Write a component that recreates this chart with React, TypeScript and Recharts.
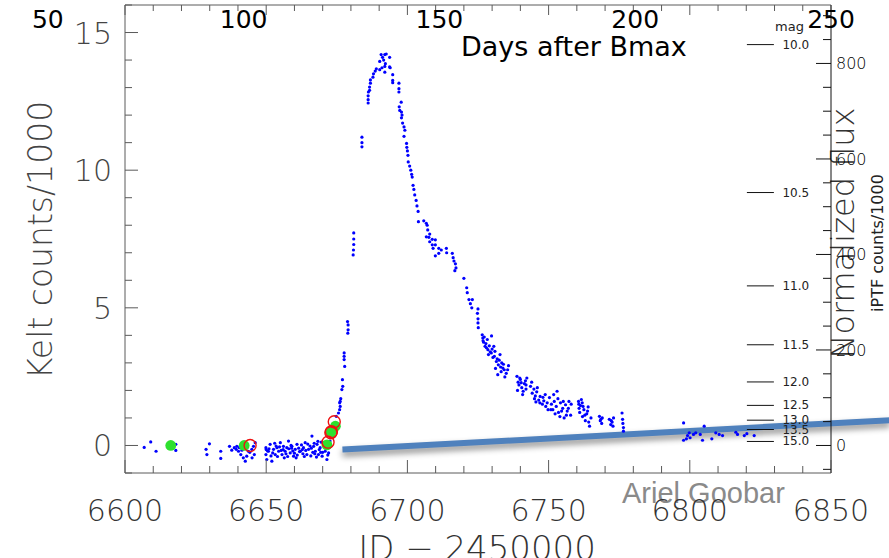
import { ComposedChart, Scatter, XAxis, YAxis, ReferenceLine } from 'recharts';

// Kelt light curve, [JD - 2450000, counts/1000]
const KELT_POINTS: [number, number][] = [
  [6606.8, -0.07], [6609.1, 0.13], [6611.0, -0.21], [6618.0, 0.04], [6618.0, -0.18],
  [6628.7, -0.14], [6629.0, -0.33], [6629.9, 0.06], [6633.9, -0.21], [6633.9, -0.47],
  [6637.0, -0.03], [6637.8, -0.17], [6638.7, -0.08], [6639.4, -0.14], [6639.6, -0.03],
  [6640.2, -0.21], [6640.5, -0.08], [6641.0, -0.33], [6641.4, -0.17], [6641.9, -0.45],
  [6642.6, -0.57], [6643.1, -0.39], [6643.7, -0.21], [6644.9, -0.14], [6645.5, -0.03],
  [6645.8, -0.33], [6646.1, 0.1], [6643.1, -0.08], [6644.2, -0.25], [6640.8, -0.02],
  [6642.0, -0.12], [6645.0, -0.45],
  [6649.9, -0.08], [6649.9, -0.33], [6650.2, -0.51], [6650.8, -0.21], [6651.4, 0.04],
  [6652.0, -0.57], [6652.6, -0.14], [6653.2, -0.33], [6653.8, -0.08], [6654.4, -0.21],
  [6655.0, 0.1], [6655.6, -0.33], [6656.1, -0.03], [6656.7, -0.21], [6657.3, -0.08],
  [6657.9, 0.16], [6658.5, -0.27], [6659.1, -0.03], [6659.7, -0.39], [6660.3, -0.14],
  [6660.9, 0.04], [6662.1, -0.21], [6663.2, -0.08], [6663.8, 0.1], [6664.4, -0.33],
  [6665.0, -0.14], [6666.2, 0.34], [6666.8, -0.03], [6667.4, -0.21], [6668.0, 0.04],
  [6668.5, -0.33], [6669.1, -0.08], [6669.8, -0.39], [6670.3, 0.1], [6670.9, -0.21],
  [6671.5, -0.51], [6672.1, -0.27], [6650.5, -0.2], [6651.0, -0.12], [6652.3, -0.27],
  [6653.5, -0.02], [6654.0, -0.4], [6655.3, -0.18], [6656.4, -0.45], [6657.0, -0.3],
  [6658.0, -0.12], [6658.8, 0.0], [6659.4, -0.2], [6660.0, -0.28], [6661.0, -0.35],
  [6661.5, -0.1], [6662.5, 0.02], [6663.0, -0.3], [6664.0, -0.18], [6665.5, -0.02],
  [6666.5, -0.25], [6667.0, 0.08], [6667.8, -0.42], [6668.8, -0.15], [6669.5, 0.12],
  [6670.0, -0.25], [6670.6, 0.02], [6671.2, -0.12], [6671.8, -0.35], [6672.3, -0.05],
  [6672.6, 0.16], [6650.0, -0.15], [6651.7, -0.38], [6653.0, 0.08], [6654.7, -0.05],
  [6656.0, -0.15], [6657.6, -0.4], [6659.0, -0.1], [6660.6, -0.45], [6662.8, -0.15],
  [6664.7, 0.05], [6665.8, -0.38], [6667.2, -0.3], [6668.3, 0.15], [6669.3, -0.25],
  [6670.8, -0.05], [6671.3, 0.05], [6672.0, 0.1], [6666.0, -0.1], [6663.5, -0.4],
  [6661.8, -0.22],
  [6673.5, 0.3], [6674.0, 0.55], [6674.8, 1.06], [6675.6, 1.18], [6676.0, 1.3],
  [6676.2, 1.42], [6676.0, 1.55], [6676.2, 1.6], [6676.4, 1.7], [6676.8, 2.03],
  [6677.1, 2.15], [6677.0, 2.39], [6677.8, 2.87], [6677.6, 3.12], [6677.6, 3.24],
  [6677.6, 3.36], [6678.9, 4.08], [6679.0, 4.2], [6679.0, 4.38], [6678.8, 4.5],
  [6680.8, 6.92], [6680.9, 7.1], [6681.0, 7.3], [6681.0, 7.5], [6681.0, 7.72],
  [6683.9, 10.85], [6683.9, 11.0], [6683.9, 11.2],
  [6686.1, 12.44], [6686.1, 12.56], [6686.1, 12.7], [6686.2, 12.84], [6686.6, 12.9],
  [6686.6, 13.02], [6686.9, 13.16], [6686.9, 13.28], [6687.8, 13.38], [6688.0, 13.5],
  [6688.6, 13.6], [6689.0, 13.68], [6690.2, 13.65], [6690.2, 13.95], [6690.7, 14.2],
  [6691.0, 13.72], [6691.2, 14.1], [6691.6, 14.0], [6692.0, 14.2], [6692.0, 13.77],
  [6692.0, 13.56], [6692.2, 13.87], [6692.5, 14.22], [6693.7, 14.1], [6693.9, 13.72],
  [6693.7, 13.75],
  [6694.8, 13.47], [6694.8, 13.26], [6694.8, 13.18], [6697.0, 13.16], [6697.0, 12.96],
  [6697.0, 12.84], [6697.8, 12.47], [6697.1, 12.3], [6697.3, 12.17], [6697.9, 12.11],
  [6698.1, 12.0], [6697.9, 11.9], [6698.3, 11.71], [6698.8, 11.57], [6699.1, 11.45],
  [6698.8, 11.23], [6699.7, 10.97], [6699.8, 10.83], [6700.0, 10.7], [6700.2, 10.54],
  [6700.3, 10.3], [6700.8, 10.15], [6701.2, 10.0], [6701.5, 9.85], [6701.7, 9.75],
  [6702.0, 9.45], [6702.3, 9.3], [6702.6, 9.1], [6703.1, 8.9], [6703.4, 8.7],
  [6703.8, 8.5], [6703.9, 8.13], [6705.8, 8.16], [6706.7, 8.07], [6707.0, 8.0],
  [6707.2, 7.83], [6706.7, 7.58], [6707.9, 7.68], [6707.6, 7.56], [6708.8, 7.49],
  [6707.9, 7.4], [6709.9, 7.47], [6709.9, 7.29], [6708.8, 7.29], [6709.1, 7.16],
  [6711.1, 7.16], [6711.1, 6.98], [6709.9, 6.89], [6713.8, 7.16], [6713.9, 7.0],
  [6715.9, 6.98], [6716.2, 6.82], [6716.5, 6.7], [6717.0, 6.6], [6716.8, 6.35],
  [6717.2, 6.45], [6712.0, 7.1],
  [6720.0, 6.07], [6721.0, 5.73], [6721.2, 5.55], [6721.8, 5.3], [6722.3, 5.15],
  [6722.8, 5.0], [6723.0, 5.3], [6725.0, 4.96], [6724.8, 4.8], [6725.0, 4.6],
  [6725.0, 4.45], [6725.1, 4.28],
  [6726.5, 4.02], [6726.7, 3.9], [6727.0, 3.75], [6727.2, 3.94], [6727.5, 3.6],
  [6727.8, 3.7], [6728.0, 3.55], [6728.3, 3.85], [6728.5, 3.48], [6729.0, 3.62],
  [6729.3, 3.4], [6729.7, 3.36], [6729.8, 3.98], [6730.0, 3.5], [6730.3, 3.2],
  [6730.8, 3.24], [6731.0, 3.42], [6731.5, 3.05], [6731.8, 3.15], [6732.2, 2.93],
  [6732.5, 3.1], [6733.0, 2.85], [6733.4, 3.0], [6733.8, 2.81], [6732.0, 2.57],
  [6734.3, 2.75], [6734.5, 2.49], [6735.5, 2.75], [6726.8, 3.8], [6728.7, 3.3],
  [6730.6, 3.6], [6732.8, 3.3], [6734.0, 2.95], [6735.0, 2.62], [6735.8, 2.9],
  [6731.2, 2.8], [6733.2, 2.68],
  [6738.8, 2.51], [6739.2, 2.3], [6739.5, 2.2], [6740.0, 2.4], [6740.5, 2.1],
  [6741.0, 1.97], [6741.4, 2.25], [6742.0, 2.05], [6742.3, 2.45], [6739.0, 2.0],
  [6739.8, 2.45], [6740.3, 2.28], [6741.8, 2.35], [6740.8, 1.85], [6742.0, 2.2],
  [6743.6, 2.15], [6744.2, 1.9], [6744.8, 2.05], [6745.3, 1.8], [6745.8, 1.95],
  [6746.5, 1.65], [6747.0, 1.78], [6747.8, 1.5], [6748.3, 1.62], [6749.0, 1.42],
  [6749.5, 1.55], [6744.0, 2.3], [6745.0, 1.7], [6746.0, 2.1], [6746.9, 1.55],
  [6748.0, 1.75], [6749.8, 1.3], [6745.5, 1.58], [6748.8, 1.85],
  [6750.3, 1.74], [6751.0, 1.5], [6751.5, 1.3], [6752.0, 1.6], [6752.7, 1.42],
  [6753.0, 1.97], [6753.5, 1.2], [6754.2, 1.55], [6755.0, 1.35], [6755.5, 1.0],
  [6756.0, 1.48], [6756.6, 1.25], [6757.2, 1.6], [6757.8, 1.1], [6750.8, 1.3],
  [6752.3, 1.15], [6753.3, 1.7], [6754.6, 1.25], [6755.2, 1.6], [6756.3, 1.1],
  [6757.0, 1.35], [6758.0, 1.5], [6751.8, 1.85], [6754.0, 1.05],
  [6760.6, 1.6], [6760.8, 1.35], [6761.0, 1.2], [6761.3, 1.45], [6761.6, 1.67],
  [6762.0, 1.05], [6762.5, 1.3], [6763.0, 0.9], [6763.5, 1.15], [6764.0, 1.4],
  [6764.5, 0.7], [6765.0, 1.0], [6760.7, 1.5], [6761.9, 1.55], [6762.8, 1.1],
  [6763.8, 1.25], [6764.2, 0.85], [6762.2, 1.42],
  [6768.0, 1.06], [6768.3, 0.9], [6768.8, 0.8], [6769.0, 1.0], [6771.5, 0.95],
  [6772.0, 0.76], [6772.5, 0.85], [6773.0, 1.0], [6768.5, 0.95], [6772.2, 0.9],
  [6772.8, 0.7],
  [6776.0, 1.18], [6776.2, 0.95], [6776.3, 0.8], [6776.5, 0.65], [6776.5, 0.52],
  [6797.8, 0.82], [6797.8, 0.19], [6799.2, 0.36], [6800.1, 0.28], [6801.3, 0.4],
  [6802.1, 0.46], [6803.7, 0.4], [6805.1, 0.7], [6804.5, 0.19], [6807.8, 0.24],
  [6809.2, 0.46], [6810.4, 0.4], [6811.6, 0.36], [6816.3, 0.48], [6816.9, 0.4],
  [6819.3, 0.36], [6820.2, 0.43], [6822.8, 0.36], [6799.8, 0.46], [6798.8, 0.24],
];

// iPTF detections (filled) and fitted points (open rings)
const IPTF_POINTS: [number, number][] = [
  [6616.2, 0.0], [6642.2, 0.0], [6671.5, 0.02], [6673.0, 0.48], [6674.5, 0.7],
];
const IPTF_RINGS: [number, number][] = [
  [6644.3, 0.0], [6671.9, 0.12], [6672.9, 0.46], [6673.1, 0.5], [6674.1, 0.86],
];

// annotation line drawn over the late-time tail
const TREND_LINE: [number, number][] = [[6677.0, -0.15], [6870.9, 0.92]];

// magnitude scale against the iPTF flux axis
const MAG_LEVELS = [10.0, 10.5, 11.0, 11.5, 12.0, 12.5, 13.0, 13.5, 15.0];
const MAG_ZP = 17.31;
const MAG_JD = 6825;

const JD_LABELS = [6600, 6650, 6700, 6750, 6800, 6850];
const DAY_LABELS = [50, 100, 150, 200, 250];
const KELT_LABELS = [0, 5, 10, 15];
const IPTF_LABELS = [0, 200, 400, 600, 800];

const jdTicks: number[] = [];
for (let v = 6600; v <= 6850; v += 10) jdTicks.push(v);
const keltTicks: number[] = [];
for (let v = -1; v <= 16; v += 1) keltTicks.push(v);
const iptfTicks: number[] = [];
for (let v = -50; v <= 900; v += 50) iptfTicks.push(v);

const keltData = KELT_POINTS.map(([jd, kelt]) => ({ jd, kelt }));
const iptfData = IPTF_POINTS.map(([jd, kelt]) => ({ jd, kelt }));
const ringData = IPTF_RINGS.map(([jd, kelt]) => ({ jd, kelt }));
const magData = MAG_LEVELS.map((mag) => ({
  jd: MAG_JD,
  flux: Math.pow(10, -0.4 * (mag - MAG_ZP)),
  mag,
}));
// anchors the days-after-maximum axis so it gets a domain and ticks
const dayData = DAY_LABELS.map((day) => ({ day, kelt: 15 }));

const THIN = "'DejaVu Sans', sans-serif";
const BOX = '#5a5a5a';
const PLOT_TOP = 5;

function BottomTick({ x, y, payload }: any) {
  const major = JD_LABELS.includes(payload.value);
  const len = major ? 13 : 7;
  return (
    <g>
      <line x1={x} x2={x} y1={y} y2={y - len} stroke={BOX} />
      <line x1={x} x2={x} y1={PLOT_TOP} y2={PLOT_TOP + (major ? 10 : 6)} stroke={BOX} />
      {major && (
        <text x={x} y={y + 48} textAnchor="middle" fontFamily={THIN} fontWeight={200} fontSize={30} fill="#333">
          {payload.value}
        </text>
      )}
    </g>
  );
}

function DayTick({ x, payload }: any) {
  return (
    <text x={x} y={28} textAnchor="middle" fontFamily={THIN} fontSize={25} fill="#000">
      {payload.value}
    </text>
  );
}

function KeltTick({ x, y, payload }: any) {
  const major = KELT_LABELS.includes(payload.value);
  return (
    <g>
      <line x1={x} x2={x + (major ? 13 : 7)} y1={y} y2={y} stroke={BOX} />
      {major && (
        <text x={x - 13} y={y} dy={11} textAnchor="end" fontFamily={THIN} fontWeight={200} fontSize={30} fill="#444">
          {payload.value}
        </text>
      )}
    </g>
  );
}

function IptfTick({ x, y, payload }: any) {
  const major = IPTF_LABELS.includes(payload.value);
  return (
    <g>
      <line x1={x} x2={x - (major ? 15 : 8)} y1={y} y2={y} stroke="#111" />
      {major && (
        <text x={x + 5} y={y} dy={6} textAnchor="start" fontFamily={THIN} fontWeight={200} fontSize={16} fill="#000">
          {payload.value}
        </text>
      )}
    </g>
  );
}

function MagTick({ cx, cy, payload }: any) {
  return (
    <g>
      <line x1={cx - 13.5} x2={cx + 13.5} y1={cy} y2={cy} stroke="#111" />
      <text x={cx + 22} y={cy} dy={4} fontFamily={THIN} fontSize={12} fill="#222">
        {payload.mag.toFixed(1)}
      </text>
    </g>
  );
}

const dot = (p: any) => <circle cx={p.cx} cy={p.cy} r={1.6} fill="#0000ff" />;
const greenDot = (p: any) => <circle cx={p.cx} cy={p.cy} r={5.4} fill="#2ee02e" />;
const redRing = (p: any) => (
  <circle cx={p.cx} cy={p.cy} r={6} fill="none" stroke="#ee1111" strokeWidth={1.4} />
);
const noMark = () => <g />;

const trendShape = (p: any) => (
  <line
    x1={p.x1} y1={p.y1} x2={p.x2} y2={p.y2}
    stroke="#4f81bd" strokeWidth={6}
    style={{ filter: 'drop-shadow(0px 4px 3px rgba(0,0,0,0.45))' }}
  />
);

export default function App() {
  return (
    <div style={{ position: 'absolute', left: 0, top: 0, width: 889, height: 558, background: '#fff' }}>
      <ComposedChart width={889} height={558} margin={{ top: 0, right: 0, bottom: 0, left: 0 }}>
        <XAxis
          xAxisId="jd" dataKey="jd" type="number" domain={[6600, 6850]} allowDataOverflow
          ticks={jdTicks} interval={0} height={85} tickSize={0} tickMargin={0}
          tickLine={false} axisLine={{ stroke: BOX }} tick={<BottomTick />}
        />
        <XAxis
          xAxisId="days" dataKey="day" orientation="top" type="number" domain={[69.7, 250]} allowDataOverflow
          ticks={DAY_LABELS} interval={0} height={PLOT_TOP} tickSize={0} tickMargin={0}
          tickLine={false} axisLine={{ stroke: BOX }} tick={<DayTick />}
        />
        <YAxis
          yAxisId="kelt" dataKey="kelt" type="number" domain={[-1, 16]} allowDataOverflow
          ticks={keltTicks} interval={0} width={125} tickSize={0} tickMargin={0}
          tickLine={false} axisLine={{ stroke: BOX }} tick={<KeltTick />}
        />
        <YAxis
          yAxisId="iptf" dataKey="flux" orientation="right" type="number" domain={[-57.65, 922.4]} allowDataOverflow
          ticks={iptfTicks} interval={0} width={58} tickSize={0} tickMargin={0}
          tickLine={false} axisLine={{ stroke: '#111' }} tick={<IptfTick />}
        />

        <Scatter xAxisId="days" yAxisId="kelt" data={dayData} shape={noMark} isAnimationActive={false} />
        <Scatter xAxisId="jd" yAxisId="kelt" data={keltData} shape={dot} isAnimationActive={false} />
        <Scatter xAxisId="jd" yAxisId="kelt" data={iptfData} shape={greenDot} isAnimationActive={false} />
        <Scatter xAxisId="jd" yAxisId="kelt" data={ringData} shape={redRing} isAnimationActive={false} />
        <Scatter xAxisId="jd" yAxisId="iptf" data={magData} shape={<MagTick />} isAnimationActive={false} />

        <ReferenceLine
          xAxisId="jd" yAxisId="kelt" ifOverflow="visible"
          segment={[
            { x: TREND_LINE[0][0], y: TREND_LINE[0][1] },
            { x: TREND_LINE[1][0], y: TREND_LINE[1][1] },
          ]}
          shape={trendShape}
        />

        <text x={775} y={31} fontFamily={THIN} fontSize={13} fill="#222">mag</text>
        <text x={461} y={56} fontFamily={THIN} fontSize={27} fill="#000">Days after Bmax</text>
        <text
          x={40} y={240} transform="rotate(-90 40 240)" textAnchor="middle" dominantBaseline="central"
          fontFamily={THIN} fontWeight={200} fontSize={33} fill="#444"
        >
          Kelt counts/1000
        </text>
        <text
          x={843} y={233} transform="rotate(-90 843 233)" textAnchor="middle" dominantBaseline="central"
          fontFamily={THIN} fontWeight={200} fontSize={32} fill="#333"
        >
          Normalized flux
        </text>
        <text
          x={877} y={243} transform="rotate(-90 877 243)" textAnchor="middle" dominantBaseline="central"
          fontFamily={THIN} fontSize={16} fill="#222"
        >
          iPTF counts/1000
        </text>
        <text x={477} y={560} textAnchor="middle" fontFamily={THIN} fontWeight={200} fontSize={34} fill="#333">
          JD − 2450000
        </text>
        <text x={622} y={503} fontFamily="'Liberation Sans', sans-serif" fontSize={29} fill="#8a8a8a">
          Ariel Goobar
        </text>
      </ComposedChart>
    </div>
  );
}
